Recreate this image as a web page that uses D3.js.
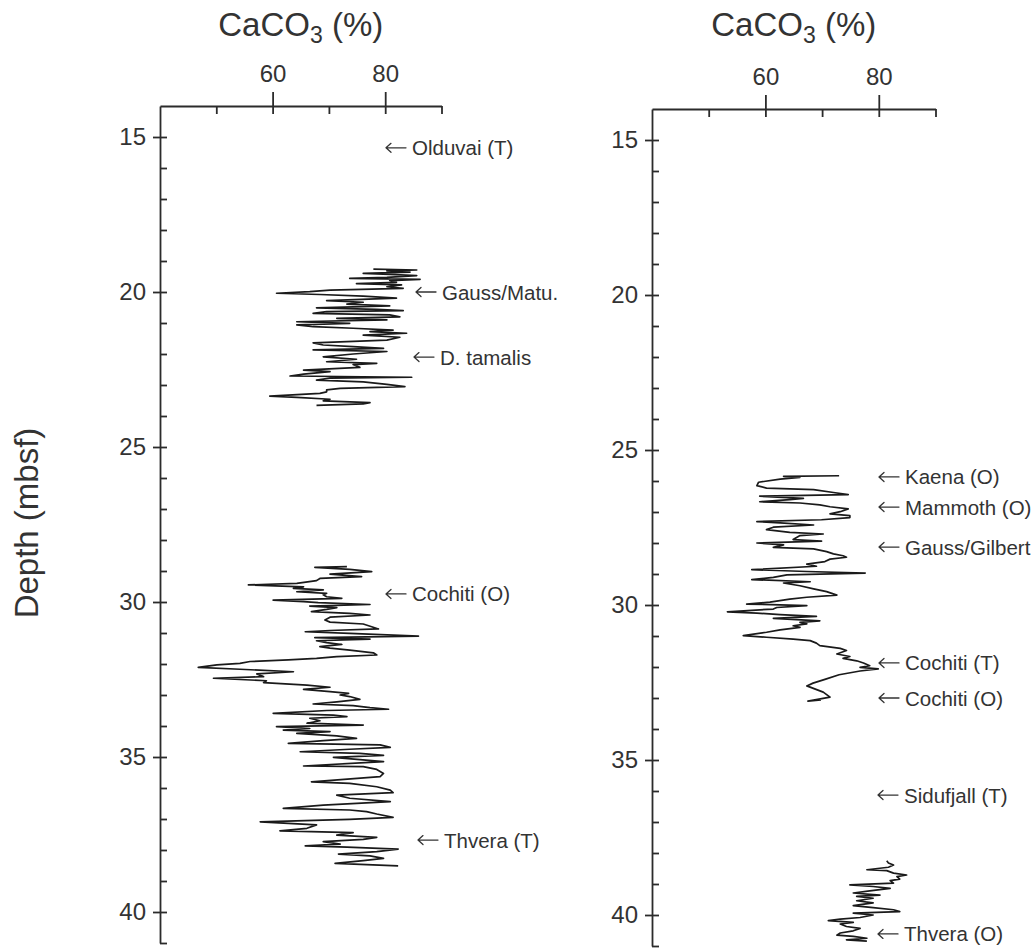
<!DOCTYPE html>
<html>
<head>
<meta charset="utf-8">
<script src="https://cdn.jsdelivr.net/npm/d3@7"></script>
<style>
  html, body { margin: 0; padding: 0; background: #ffffff; }
  svg { display: block; }
  text { font-family: "Liberation Sans", Arial, Helvetica, sans-serif; fill: #333; }
</style>
</head>
<body>
<svg id="chart" width="1035" height="951"></svg>
<script>
// ---------------- DATA ----------------
// [depth (mbsf), CaCO3 (%)]
const leftUpper = [
  [19.26,77.9],[19.29,85.6],[19.32,80.3],[19.36,84.4],[19.40,76.1],[19.43,80.8],[19.47,85.6],[19.53,80.3],
  [19.56,73.7],[19.59,86.2],[19.63,80.8],[19.69,82.0],[19.73,74.9],[19.77,82.9],[19.83,80.3],[19.88,83.2],
  [19.94,70.2],[19.99,66.6],[20.04,60.7],[20.08,68.4],[20.13,76.1],[20.20,82.0],[20.28,69.6],[20.33,76.1],
  [20.39,73.2],[20.45,80.8],[20.51,67.8],[20.56,78.5],[20.60,83.2],[20.63,69.6],[20.69,67.2],[20.74,80.8],
  [20.80,82.6],[20.85,71.4],[20.90,80.3],[20.96,64.3],[21.01,73.7],[21.06,64.3],[21.12,67.2],[21.17,74.3],
  [21.23,81.4],[21.28,77.3],[21.33,83.8],[21.39,76.1],[21.46,82.6],[21.55,80.3],[21.64,67.2],[21.71,69.0],
  [21.76,74.3],[21.82,79.7],[21.87,67.2],[21.92,80.3],[22.00,74.3],[22.09,69.0],[22.17,74.9],[22.25,69.6],
  [22.30,78.5],[22.34,74.3],[22.43,75.5],[22.52,65.5],[22.57,70.2],[22.65,65.5],[22.71,63.1],[22.75,84.7],
  [22.78,70.2],[22.84,67.8],[22.90,76.1],[22.98,80.3],[23.05,83.5],[23.11,72.0],[23.16,69.6],[23.22,69.6],
  [23.27,68.4],[23.36,59.5],[23.40,64.3],[23.46,70.2],[23.51,69.0],[23.57,77.3],[23.61,76.1],[23.66,67.8]
];
const leftLower = [
  [28.86,73.2],[28.88,67.5],[28.95,73.7],[29.02,77.6],[29.10,70.2],[29.18,75.8],[29.24,68.4],[29.31,67.8],
  [29.40,64.3],[29.45,55.7],[29.51,65.5],[29.56,63.7],[29.61,69.0],[29.67,64.3],[29.72,69.6],[29.77,69.0],
  [29.83,69.6],[29.88,72.3],[29.94,60.1],[29.99,65.5],[30.02,68.1],[30.08,77.3],[30.13,66.6],[30.18,71.4],
  [30.24,69.6],[30.31,66.9],[30.37,73.7],[30.42,77.3],[30.49,70.2],[30.58,69.3],[30.65,70.2],[30.71,76.1],
  [30.80,77.6],[30.87,78.8],[30.92,70.2],[30.96,65.8],[31.01,73.7],[31.10,85.9],[31.15,67.5],[31.20,77.3],
  [31.25,67.8],[31.31,69.6],[31.37,72.3],[31.44,68.4],[31.49,70.2],[31.55,73.7],[31.64,77.9],[31.71,78.5],
  [31.76,71.4],[31.82,67.8],[31.87,62.8],[31.92,56.0],[31.98,54.2],[32.03,50.1],[32.11,46.8],[32.17,54.2],
  [32.25,63.7],[32.32,57.2],[32.41,58.4],[32.46,49.5],[32.54,58.9],[32.60,58.4],[32.68,66.1],[32.75,70.2],
  [32.82,65.5],[32.89,70.2],[32.95,73.5],[33.00,72.0],[33.05,73.7],[33.14,75.5],[33.22,71.4],[33.29,67.2],
  [33.34,74.3],[33.41,77.3],[33.46,80.6],[33.50,69.6],[33.59,60.1],[33.65,70.8],[33.70,73.2],[33.75,66.6],
  [33.83,68.4],[33.91,66.1],[33.97,76.1],[34.02,60.7],[34.08,66.6],[34.13,61.9],[34.18,70.2],[34.24,64.3],
  [34.32,71.4],[34.40,74.9],[34.47,69.0],[34.56,62.8],[34.61,79.1],[34.69,80.9],[34.75,73.7],[34.83,64.9],
  [34.88,75.5],[34.95,79.7],[35.01,70.8],[35.15,79.7],[35.29,65.5],[35.31,76.1],[35.40,78.5],[35.53,79.7],
  [35.63,79.1],[35.80,66.9],[35.85,73.7],[35.96,78.5],[36.07,80.9],[36.15,81.4],[36.23,71.4],[36.33,73.7],
  [36.44,80.9],[36.55,69.0],[36.66,61.9],[36.71,73.7],[36.76,76.7],[36.84,78.5],[36.95,81.4],[37.01,73.7],
  [37.09,57.8],[37.19,67.8],[37.30,66.1],[37.38,61.3],[37.44,74.3],[37.52,71.4],[37.59,78.5],[37.66,76.1],
  [37.73,69.0],[37.81,72.0],[37.87,65.8],[37.91,73.2],[37.97,82.3],[38.05,78.5],[38.13,71.7],[38.19,77.3],
  [38.27,79.7],[38.34,76.1],[38.43,71.1],[38.51,82.3]
];
const rightUpper = [
  [25.83,73.0],[25.85,63.2],[25.88,66.1],[25.94,62.6],[26.04,58.8],[26.15,58.5],[26.23,60.2],[26.28,68.5],
  [26.37,72.0],[26.44,74.6],[26.49,59.0],[26.56,66.7],[26.60,64.3],[26.67,59.0],[26.71,66.1],[26.77,69.6],
  [26.83,71.4],[26.90,74.6],[26.99,73.2],[27.06,71.4],[27.12,74.9],[27.18,74.9],[27.25,69.9],[27.31,58.5],
  [27.35,62.6],[27.42,68.5],[27.49,61.4],[27.57,60.2],[27.66,64.3],[27.71,70.2],[27.76,66.1],[27.82,65.5],
  [27.89,64.9],[27.94,69.9],[28.00,58.5],[28.06,63.2],[28.14,61.4],[28.19,68.5],[28.28,70.8],[28.35,72.0],
  [28.41,73.7],[28.46,74.3],[28.52,71.4],[28.60,70.5],[28.68,67.3],[28.75,69.0],[28.86,57.6],[28.92,67.3],
  [28.97,77.6],[29.03,63.8],[29.11,61.4],[29.18,57.6],[29.25,67.9],[29.29,63.2],[29.38,66.1],[29.48,68.5],
  [29.57,70.8],[29.68,72.6],[29.75,67.3],[29.81,64.3],[29.91,60.8],[29.97,56.7],[30.02,67.3],[30.08,62.0],
  [30.13,61.4],[30.22,53.3],[30.26,58.5],[30.31,62.6],[30.37,69.0],[30.43,61.4],[30.51,69.6],[30.56,66.1],
  [30.61,67.3],[30.67,64.9],[30.72,66.1],[30.80,62.6],[30.88,60.2],[30.99,56.1],[31.04,60.2],[31.10,64.9],
  [31.15,67.9],[31.23,69.0],[31.31,69.6],[31.40,73.2],[31.47,74.3],[31.58,72.6],[31.66,74.9],[31.72,73.7],
  [31.80,76.1],[31.87,77.3],[31.96,78.4],[32.01,76.7],[32.06,79.9],[32.13,76.7],[32.25,73.0],[32.40,70.5],
  [32.52,68.4],[32.61,67.3],[32.81,70.2],[32.97,71.4],[33.10,67.5],[33.06,69.8]
];
const rightLower = [
  [38.25,81.4],[38.32,81.7],[38.39,82.6],[38.46,81.7],[38.54,77.9],[38.57,81.4],[38.65,82.6],[38.71,84.9],
  [38.76,83.2],[38.84,83.7],[38.89,82.0],[38.97,82.6],[39.03,74.9],[39.08,79.0],[39.14,82.0],[39.22,78.4],
  [39.29,75.5],[39.36,80.2],[39.40,76.1],[39.46,79.0],[39.54,76.1],[39.61,79.0],[39.70,75.5],[39.76,79.0],
  [39.83,82.6],[39.89,83.7],[39.94,75.5],[40.00,79.0],[40.08,76.7],[40.13,73.2],[40.18,71.1],[40.24,75.5],
  [40.29,73.2],[40.37,74.3],[40.43,76.7],[40.51,75.5],[40.58,73.2],[40.65,72.6],[40.69,75.5],[40.75,77.9],
  [40.80,74.3],[40.84,77.9]
];

const xTickLabels = [60, 80];
const xMinorTicks = [50, 60, 70, 80, 90];
const yTickLabels = [15, 20, 25, 30, 35, 40];
const yMinorTicks = d3.range(15, 42);

const leftEventNames  = ["Olduvai (T)", "Gauss/Matu.", "D. tamalis", "Cochiti (O)", "Thvera (T)"];
const leftEventDepths = [15.35, 20.0, 22.1, 29.74, 37.68];
const rightEventNames  = ["Kaena (O)", "Mammoth (O)", "Gauss/Gilbert", "Cochiti (T)", "Cochiti (O)", "Sidufjall (T)", "Thvera (O)"];
const rightEventDepths = [25.87, 26.84, 28.13, 31.87, 33.0, 36.13, 40.61];

// ---------------- LAYOUT ----------------
const svg = d3.select("#chart");
const ink = "#2b2b2b";

const panels = [
  { x0: 160, x1: 441.5, y0: 106, series: [leftUpper, leftLower],
    names: leftEventNames, depths: leftEventDepths, labelX: [385, 415, 413, 385, 417] },
  { x0: 652, x1: 935.5, y0: 109, series: [rightUpper, rightLower],
    names: rightEventNames, depths: rightEventDepths, labelX: [878, 878, 878, 878, 878, 877, 877] }
];

panels.forEach(p => {
  const x = d3.scaleLinear().domain([40, 90]).range([p.x0, p.x1]);
  const yEnd = p.y0 + (41 - 14) * 31;
  const y = d3.scaleLinear().domain([14, 41]).range([p.y0, yEnd]);
  const g = svg.append("g");

  g.append("g").attr("transform", `translate(0,${p.y0})`)
    .call(d3.axisTop(x).tickValues(xTickLabels).tickSize(14).tickSizeOuter(0).tickPadding(10));
  const topIn = g.append("g").attr("transform", `translate(0,${p.y0})`)
    .call(d3.axisBottom(x).tickValues(xMinorTicks).tickSize(8).tickSizeOuter(0).tickFormat(""));
  topIn.select(".domain").remove();

  g.append("g").attr("transform", `translate(${p.x0},0)`)
    .call(d3.axisLeft(y).tickValues(yTickLabels).tickSize(7).tickSizeOuter(0).tickPadding(7));
  const leftIn = g.append("g").attr("transform", `translate(${p.x0},0)`)
    .call(d3.axisRight(y).tickValues(yMinorTicks).tickSize(7).tickSizeOuter(0).tickFormat(""));
  leftIn.select(".domain").remove();

  g.selectAll(".domain, .tick line").attr("stroke", ink).attr("stroke-width", 1.8);
  g.selectAll(".tick text").attr("fill", "#333")
    .style("font-family", '"Liberation Sans", Arial, sans-serif').style("font-size", "24px");

  // title
  const t = g.append("text").attr("x", x(65)).attr("y", 36).attr("text-anchor", "middle")
    .style("font-size", "33px");
  t.append("tspan").text("CaCO");
  t.append("tspan").text("3").style("font-size", "23px").attr("dy", 7);
  t.append("tspan").text(" (%)").attr("dy", -7);

  // curves
  const line = d3.line().x(d => x(d[1])).y(d => y(d[0]));
  p.series.forEach(s => {
    g.append("path").datum(s).attr("d", line)
      .attr("fill", "none").attr("stroke", "#1a1a1a").attr("stroke-width", 1.7)
      .attr("stroke-linejoin", "round");
  });

  // event annotations: drawn arrow + label
  p.names.forEach((n, i) => {
    const yy = y(p.depths[i]);
    const ax = p.labelX[i];
    g.append("path")
      .attr("d", `M${ax + 21},${yy} L${ax + 1},${yy} M${ax + 6},${yy - 4.5} L${ax + 1},${yy} L${ax + 6},${yy + 4.5}`)
      .attr("fill", "none").attr("stroke", "#333").attr("stroke-width", 1.3)
      .attr("stroke-linecap", "round").attr("stroke-linejoin", "round");
    g.append("text").attr("x", ax + 27).attr("y", yy)
      .attr("dominant-baseline", "central")
      .style("font-size", "20.5px")
      .text(n);
  });
});

// y-axis title
svg.append("text").attr("transform", "translate(38,523) rotate(-90)")
  .attr("text-anchor", "middle").style("font-size", "33px").text("Depth (mbsf)");
</script>
</body>
</html>
